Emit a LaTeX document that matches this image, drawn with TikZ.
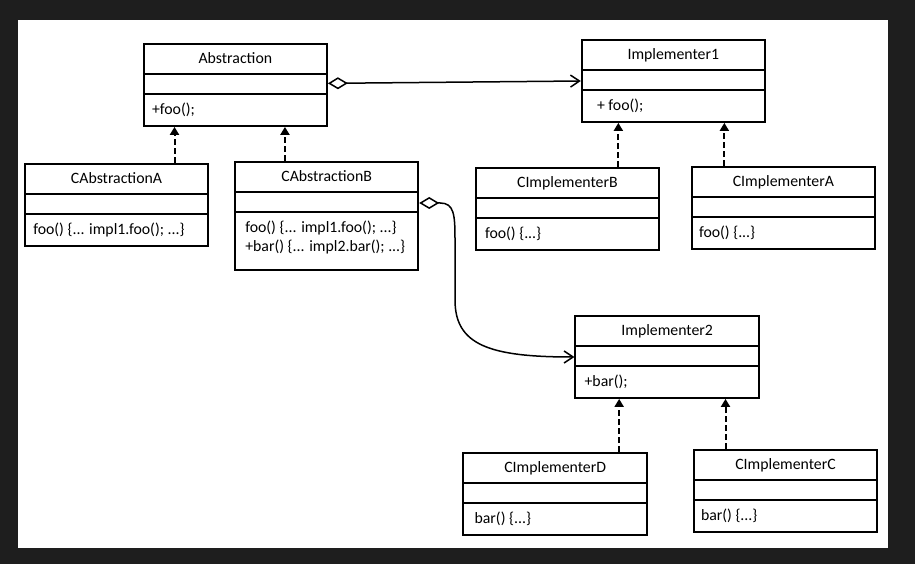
\documentclass[tikz,border=0pt]{standalone}
\usepackage{fontspec}
\setmainfont{Carlito}
\usetikzlibrary{arrows.meta,calc,fit}
\definecolor{framecol}{HTML}{1E1E1E}
\tikzset{
  umlbox/.style={draw, line width=1.8pt, fill=white, inner sep=0pt},
  divider/.style={line width=1.8pt},
  txt/.style={inner sep=0pt, font=\fontsize{15.8}{19}\selectfont},
  real/.style={line width=2pt, dash pattern=on 6pt off 3pt, -{Triangle[length=8pt,width=9pt]}},
  agg/.style={line width=1.5pt, {Diamond[open,length=20pt,width=12pt]}-{Straight Barb[length=9pt,width=12pt]}},
}
\newcommand\umlclass[8]{%
  \node[umlbox, fit={(#2,#3)(#4,#5)}] (#1) {};
  \draw[divider] ([yshift=-31pt]#1.north west) -- ([yshift=-31pt]#1.north east);
  \draw[divider] ([yshift=-51pt]#1.north west) -- ([yshift=-51pt]#1.north east);
  \node[txt, anchor=base] (#1-t) at ([yshift=-20.5pt]#1.north) {#6};
  \node[txt, anchor=base west] (#1-m) at ([xshift=#7pt, yshift=-71.5pt]#1.north west) {#8};
}
\begin{document}
\begin{tikzpicture}[x=1pt,y=-1pt]
\fill[framecol] (0,0) rectangle (915,564);
\fill[white] (18,20) rectangle (888,548);
\useasboundingbox (0,0) rectangle (915,564);

\umlclass{abs}{143.7}{43.7}{327}{126}{Abstraction}{9}{+foo();}
\umlclass{imp1}{581.7}{40}{765}{122}{Implementer1}{16}{+ foo();}
\umlclass{caa}{25}{163.7}{208}{246}{CAbstractionA}{9}{foo() \{... impl1.foo(); ...\}}
\umlclass{cab}{235}{162}{418.3}{270}{CAbstractionB}{11}{foo() \{... impl1.foo(); ...\}}
\node[txt, anchor=base west] (cab-m2) at ([yshift=-19pt]cab-m.base west) {+bar() \{... impl2.bar(); ...\}};
\umlclass{cib}{475.7}{168}{659}{249.7}{CImplementerB}{10}{foo() \{...\}}
\umlclass{cia}{691.7}{167}{875}{248.7}{CImplementerA}{8}{foo() \{...\}}
\umlclass{imp2}{575.3}{316}{759}{398}{Implementer2}{10}{+bar();}
\umlclass{cid}{463.3}{452.7}{647}{535}{CImplementerD}{12}{bar() \{...\}}
\umlclass{cic}{693.7}{450}{877.3}{532.3}{CImplementerC}{8}{bar() \{...\}}

% aggregations
\draw[agg] ([yshift=1.5pt]abs.east) -- (imp1.west);
\draw[agg] ([yshift=13pt]cab.east) -- ++(21,0) .. controls +(14,0) and +(0,-25) .. (455,240)
  -- (455,300) .. controls +(0,45) and +(-85,0) .. (imp2.west);

% realizations
\coordinate (c1) at ([xshift=58pt]caa.north);
\coordinate (c2) at ([xshift=-41.7pt]cab.north);
\coordinate (c3) at ([xshift=51pt]cib.north);
\coordinate (c4) at ([xshift=-59pt]cia.north);
\coordinate (c5) at ([xshift=64pt]cid.north);
\coordinate (c6) at ([xshift=-60pt]cic.north);
\draw[real] (c1) -- (c1 |- abs.south);
\draw[real] (c2) -- (c2 |- abs.south);
\draw[real] (c3) -- (c3 |- imp1.south);
\draw[real] (c4) -- (c4 |- imp1.south);
\draw[real] (c5) -- (c5 |- imp2.south);
\draw[real] (c6) -- (c6 |- imp2.south);
\end{tikzpicture}
\end{document}
